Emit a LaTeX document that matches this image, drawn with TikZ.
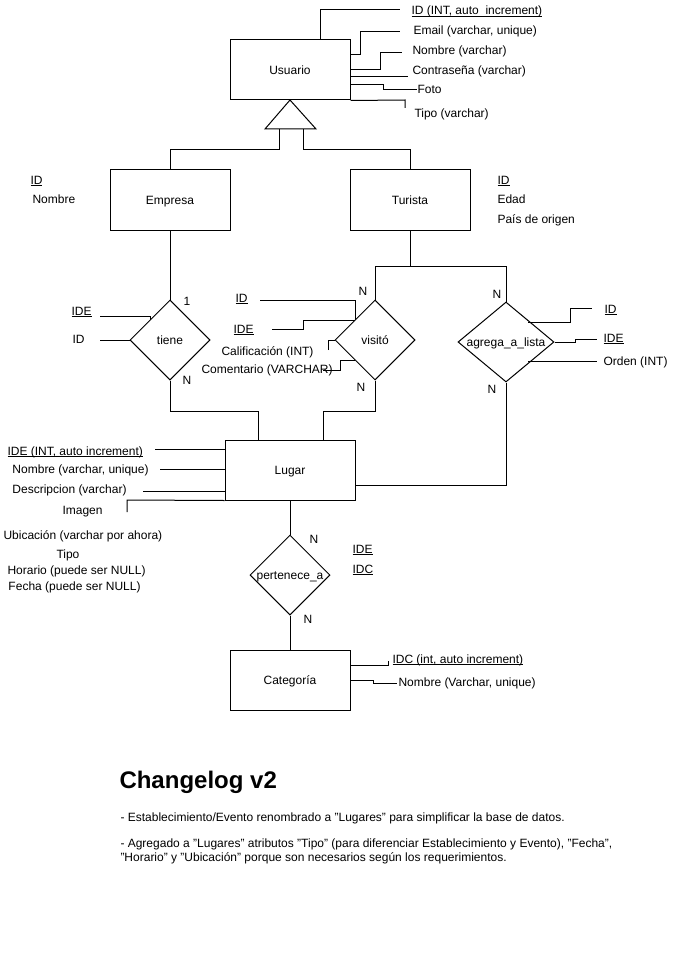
\documentclass[tikz,border=0pt]{standalone}
\usepackage{fontspec}
\setmainfont{Liberation Sans}
\usetikzlibrary{shapes.geometric}
\newcommand\myul[1]{\underline{\smash{#1}}}
\begin{document}
\begin{tikzpicture}[x=1pt,y=-1pt,line width=1pt,
  every node/.style={font=\fontsize{12}{14}\selectfont},
  ent/.style={draw,minimum width=120pt,minimum height=60pt,inner sep=0pt,text height=8.6pt,text depth=0pt},
  rel/.style={draw,diamond,minimum width=80pt,minimum height=80pt,inner sep=0pt},
  rlab/.style={inner sep=0pt,text height=8.6pt,text depth=0pt},
  attr/.style={anchor=base west,inner sep=0pt},
  card/.style={anchor=base west,inner sep=0pt},
  cl/.style={anchor=base west,inner sep=0pt,font=\fontsize{12}{14}\selectfont}]
\useasboundingbox (0,0) rectangle (681,960);
\fill[white] (0,0) rectangle (681,960);

% entities
\node[ent] (usuario) at (290,70) {Usuario};
\node[ent] (empresa) at (170,200) {Empresa};
\node[ent] (turista) at (410,200) {Turista};
\node[ent,minimum width=130pt] (lugar) at (290,470) {Lugar};
\node[ent] (cat) at (290,680) {Categoría};

% relationships
\node[rel] (tiene) at (170,340) {};
\node[rlab] at (tiene) {tiene};
\node[rel] (visito) at (375,340) {};
\node[rlab] at (visito) {visitó};
\node[rel,minimum width=96pt] (agrega) at (506,342) {};
\node[rlab] at (agrega) {agrega\_a\_lista};
\node[rel] (pert) at (290,575) {};
\node[rlab] at (pert) {pertenece\_a};

% ISA triangle
\coordinate (tA) at (290,100);
\coordinate (tL) at (265,129);
\coordinate (tR) at (316,129);
\draw (tA) -- (tL) -- (tR) -- cycle;
\draw (279,129) -- (279,150) -| (empresa.north);
\draw (303,129) -- (303,150) -| (turista.north);

% Usuario attributes
\draw (320,40) |- (400,10);
\draw (350,55) -- (360,55) |- (400,32);
\draw (350,70) -- (380,70) |- (402,53);
\draw (350,77) -- (408,77);
\draw (350,85) -- (383,85) |- (417,90);
\draw (usuario.south east) -- (405,100) -- (405,108);
\node[attr] at (411,15) {\myul{ID (INT, auto\ \ increment)}};
\node[attr] at (413,35) {Email (varchar, unique)};
\node[attr] at (412,55) {Nombre (varchar)};
\node[attr] at (412,75) {Contraseña (varchar)};
\node[attr] at (417,94) {Foto};
\node[attr] at (414,118) {Tipo (varchar)};

% Empresa / Turista attributes
\node[attr] at (30,184) {\myul{ID}};
\node[attr] at (32,203) {Nombre};
\node[attr] at (497,184) {\myul{ID}};
\node[attr] at (497,204) {Edad};
\node[attr] at (497,223) {País de origen};

% connections
\draw (empresa.south) -- (tiene.north);
\draw (tiene.south) -- (170,411) -- (258,411) -- (258,440);
\draw (turista.south) -- (410,266);
\draw (visito.north) -- (375,266) -- (506,266) -- (agrega.north);
\draw (visito.south) -- (375,411) -- (323,411) -- (323,440);
\draw (agrega.south) -- (506,485) -- (lugar.east |- 0,485);
\draw (lugar.south) -- (pert.north);
\draw (pert.south) -- (cat.north);

% cardinalities
\node[card] at (183,305) {1};
\node[card] at (182,384) {N};
\node[card] at (358,295) {N};
\node[card] at (356,391) {N};
\node[card] at (492,298) {N};
\node[card] at (487,393) {N};
\node[card] at (309,543) {N};
\node[card] at (303,623) {N};

% tiene attributes
\draw (100,316) -- (150,316) -- (150,320);
\draw (100,340) -- (tiene.west);
\node[attr] at (71,315) {\myul{IDE}};
\node[attr] at (72,343) {ID};

% visito attributes
\draw (260,300) -- (355,300) -- (355,320);
\draw (272,329) -- (303,329) -- (303,320) -- (355,320);
\draw (328,350) -- (328,340) -- (visito.west);
\draw (323,370) -- (340,370) -- (340,360) -- (355,360);
\node[attr] at (235,302) {\myul{ID}};
\node[attr] at (233,333) {\myul{IDE}};
\node[attr] at (221,355) {Calificación (INT)};
\node[attr] at (201,373) {Comentario (VARCHAR)};

% agrega attributes
\draw (528,322) -- (570,322) -- (570,308) -- (592,308);
\draw (agrega.east) -- (575,342) -- (575,339) -- (597,339);
\draw (528,361) -- (597,361);
\node[attr] at (604,313) {\myul{ID}};
\node[attr] at (603,342) {\myul{IDE}};
\node[attr] at (603,365) {Orden (INT)};

% Lugar attributes
\draw (155,449) -- (225,449);
\draw (160,469) -- (225,469);
\draw (143,491) -- (225,491);
\draw (lugar.south west) -- (127,500) -- (127,512);
\node[attr] at (7,455) {\myul{IDE (INT, auto increment)}};
\node[attr] at (12,473) {Nombre (varchar, unique)};
\node[attr] at (12,493) {Descripcion (varchar)};
\node[attr] at (62,514) {Imagen};
\node[attr] at (3,539) {Ubicación (varchar por ahora)};
\node[attr] at (56,558) {Tipo};
\node[attr] at (7,574) {Horario (puede ser NULL)};
\node[attr] at (8,590) {Fecha (puede ser NULL)};

% pertenece attributes
\node[attr] at (352,553) {\myul{IDE}};
\node[attr] at (352,573) {\myul{IDC}};

% Categoria attributes
\draw (350,665) -- (388,665) -- (388,661);
\draw (350,680) -- (373,680) -- (373,683) -- (397,683);
\node[attr] at (392,663) {\myul{IDC (int, auto increment)}};
\node[attr] at (398,686) {Nombre (Varchar, unique)};

% changelog
\node[anchor=base west,inner sep=0pt,font=\bfseries\fontsize{24}{28}\selectfont] at (119,788) {Changelog v2};
\node[cl] at (120,821) {- Establecimiento/Evento renombrado a "Lugares" para simplificar la base de datos.};
\node[cl] at (120,847) {- Agregado a "Lugares" atributos "Tipo" (para diferenciar Establecimiento y Evento), "Fecha",};
\node[cl] at (120,861) {"Horario" y "Ubicación" porque son necesarios según los requerimientos.};
\end{tikzpicture}
\end{document}
